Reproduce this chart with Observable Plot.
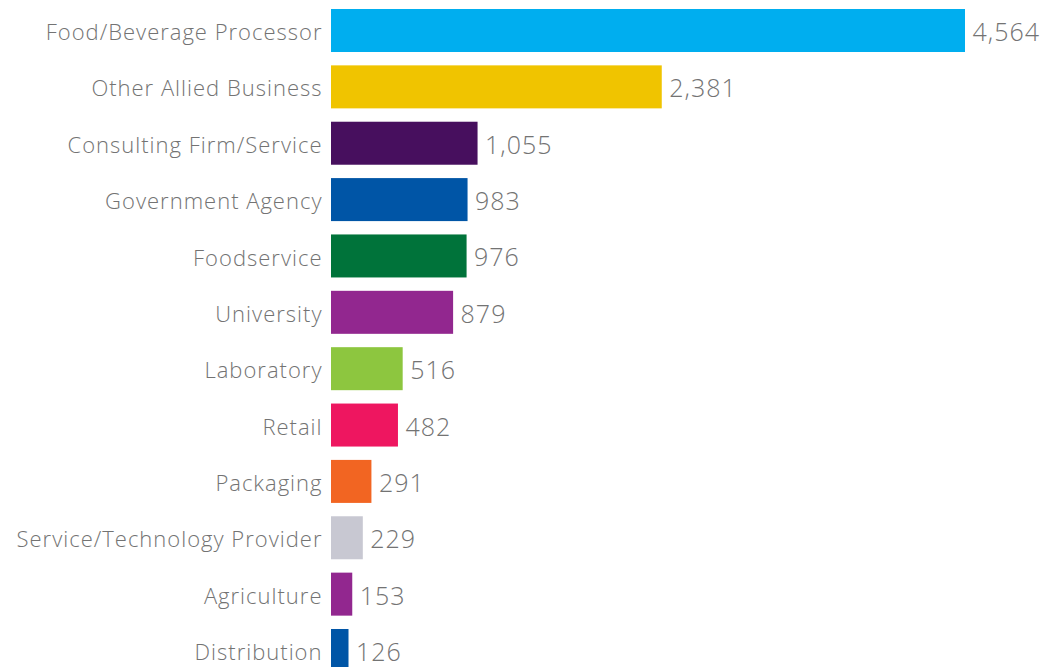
<!DOCTYPE html>
<html>
<head>
<meta charset="utf-8">
<script src="https://cdn.jsdelivr.net/npm/d3@7"></script>
<script src="https://cdn.jsdelivr.net/npm/@observablehq/plot@0.6"></script>
<style>
  html, body { margin: 0; padding: 0; background: #fff; overflow: hidden; }
  #chart svg { display: block; }
</style>
</head>
<body>
<div id="chart"></div>
<script>
const categories = ["Food/Beverage Processor", "Other Allied Business", "Consulting Firm/Service", "Government Agency", "Foodservice", "University", "Laboratory", "Retail", "Packaging", "Service/Technology Provider", "Agriculture", "Distribution"];
const counts = [4564, 2381, 1055, 983, 976, 879, 516, 482, 291, 229, 153, 126];
const colors = ["#00aeef", "#f0c400", "#470f5e", "#0055a6", "#00733a", "#92278f", "#8dc63f", "#ee1660", "#f26522", "#c8c8d2", "#92278f", "#0055a6"];

const data = categories.map((c, i) => ({category: c, count: counts[i], color: colors[i]}));

const font = "'Open Sans', sans-serif";
const chart = Plot.plot({
  width: 1055,
  height: 680,
  marginLeft: 331,
  marginRight: 90,
  marginTop: 0,
  marginBottom: 0,
  style: {fontFamily: font, fontSize: "22px", color: "#737373", background: "#fff", fontWeight: 300, letterSpacing: "1px"},
  x: {domain: [0, d3.max(counts)], axis: null},
  y: {domain: categories, range: [9, 672], paddingInner: 0.237, paddingOuter: 0, align: 0, round: false, label: null},
  marks: [
    Plot.barX(data, {x: "count", y: "category", fill: "color"}),
    Plot.text(data, {x: "count", y: "category", text: d => d3.format(",")(d.count), textAnchor: "start", dx: 7, dy: 2, fill: "#737373", fontSize: 25, fontWeight: 300}),
    Plot.axisY({tickSize: 0, tickPadding: 9, fontSize: 22, dy: 2, fill: "#737373", fontWeight: 300})
  ]
});
document.getElementById("chart").appendChild(chart);
</script>
</body>
</html>
